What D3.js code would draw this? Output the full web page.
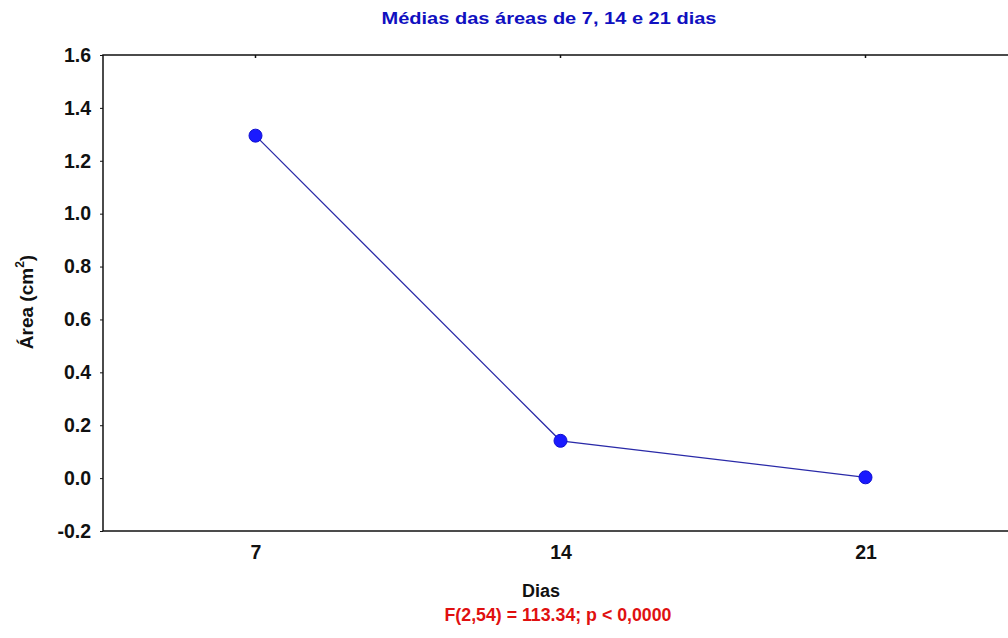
<!DOCTYPE html>
<html><head><meta charset="utf-8">
<script src="https://cdn.jsdelivr.net/npm/d3@7"></script>
<style>body{margin:0;background:#fff;} svg{display:block;}</style>
</head><body>
<script>
const categories = [7, 14, 21];
const values = [1.295, 0.141, 0.003];
const yTicks = [-0.2, 0.0, 0.2, 0.4, 0.6, 0.8, 1.0, 1.2, 1.4, 1.6];
const title = "Médias das áreas de 7, 14 e 21 dias";
const xLabel = "Dias";
const yLabel = "Área (cm";
const statText = "F(2,54) = 113.34; p < 0,0000";

const W = 1008, H = 638;
const svg = d3.select("body").append("svg").attr("width", W).attr("height", H);
const mLeft = 103, mRight = 1018, mTop = 55, mBottom = 531;

const x = d3.scalePoint().domain(categories).range([mLeft, mRight]).padding(0.5);
const y = d3.scaleLinear().domain([-0.2, 1.6]).range([mBottom, mTop]);

const font = "Arial, 'Liberation Sans', sans-serif";
const fmt = d => d3.format(".1f")(d).replace("\u2212", "-");

// frame
svg.append("rect").attr("x", mLeft).attr("y", mTop).attr("width", mRight - mLeft).attr("height", mBottom - mTop)
  .attr("fill", "none").attr("stroke", "#111").attr("stroke-width", 1.5);

// y axis
const yAxis = svg.append("g").attr("transform", `translate(${mLeft},0)`)
  .call(d3.axisLeft(y).tickValues(yTicks).tickFormat(fmt).tickSize(3).tickPadding(9));
yAxis.select(".domain").remove();
yAxis.selectAll("line").attr("stroke", "#111");
yAxis.selectAll("text").attr("font-family", font).attr("font-weight", "bold").attr("font-size", 19.5).attr("fill", "#111");

// x axis
const xAxis = svg.append("g").attr("transform", `translate(0,${mBottom})`)
  .call(d3.axisBottom(x).tickSize(0).tickPadding(14));
xAxis.select(".domain").remove();
xAxis.selectAll("text").attr("font-family", font).attr("font-weight", "bold").attr("font-size", 19.5).attr("fill", "#111");

// top inner ticks
svg.append("g").selectAll("line").data(categories).join("line")
  .attr("x1", d => x(d)).attr("x2", d => x(d)).attr("y1", mTop).attr("y2", mTop + 3)
  .attr("stroke", "#111").attr("stroke-width", 1.5);

// line
const line = d3.line().x((d, i) => x(categories[i])).y(d => y(d));
svg.append("path").datum(values).attr("d", line).attr("fill", "none")
  .attr("stroke", "#2a2aa8").attr("stroke-width", 1.3);

svg.append("g").selectAll("circle").data(values).join("circle")
  .attr("cx", (d, i) => x(categories[i])).attr("cy", d => y(d)).attr("r", 6.5)
  .attr("fill", "#1a1aff").attr("stroke", "#1010d0").attr("stroke-width", 1);

// title
svg.append("text").attr("x", 549).attr("y", 24).attr("text-anchor", "middle")
  .attr("font-family", font).attr("font-weight", "bold").attr("font-size", 17)
  .attr("fill", "#1010c0").attr("textLength", 335).attr("lengthAdjust", "spacingAndGlyphs").text(title);

// x label
svg.append("text").attr("x", 541).attr("y", 597).attr("text-anchor", "middle")
  .attr("font-family", font).attr("font-weight", "bold").attr("font-size", 17.5)
  .attr("fill", "#111").attr("textLength", 38).attr("lengthAdjust", "spacingAndGlyphs").text(xLabel);

// stat
svg.append("text").attr("x", 558).attr("y", 621).attr("text-anchor", "middle")
  .attr("font-family", font).attr("font-weight", "bold").attr("font-size", 18)
  .attr("fill", "#e01010").attr("textLength", 227).attr("lengthAdjust", "spacingAndGlyphs").text(statText);

// y label
const yl = svg.append("text").attr("transform", "translate(33,302) rotate(-90)").attr("text-anchor", "middle")
  .attr("font-family", font).attr("font-weight", "bold").attr("font-size", 19).attr("fill", "#111");
yl.append("tspan").text(yLabel);
yl.append("tspan").attr("font-size", 12).attr("dy", -9).text("2");
yl.append("tspan").attr("dy", 9).text(")");
</script>
</body></html>
